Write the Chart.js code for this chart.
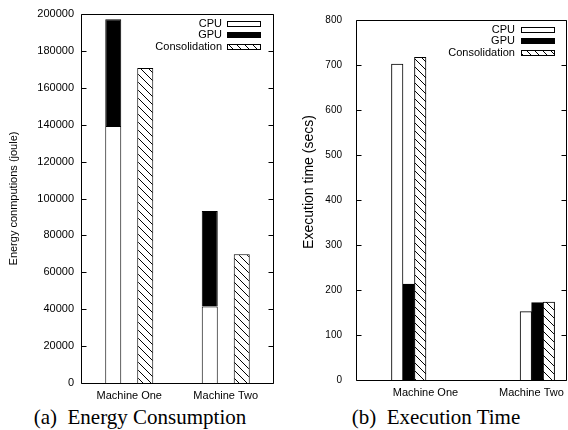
<!DOCTYPE html>
<html><head><meta charset="utf-8">
<script src="https://cdn.jsdelivr.net/npm/chart.js@4/dist/chart.umd.min.js"></script>
<style>
html,body{margin:0;padding:0;background:#fff;overflow:hidden;width:568px;height:430px;}
#w1{position:absolute;left:0;top:0;width:284px;height:400px;}
#w2{position:absolute;left:284px;top:0;width:286px;height:400px;}
.cap{position:absolute;top:405px;width:240px;text-align:center;font-family:"Liberation Serif","Times New Roman",serif;font-size:21px;line-height:24px;white-space:pre;color:#000;}
</style></head><body>
<div id="w1"><canvas id="c1"></canvas></div>
<div id="w2"><canvas id="c2"></canvas></div>
<div class="cap" style="left:20px">(a)  Energy Consumption</div>
<div class="cap" style="left:316px">(b)  Execution Time</div>
<script>
// ---- data ----
const categories = ['Machine One', 'Machine Two'];
const seriesNames = ['CPU', 'GPU', 'Consolidation'];
const energyCPU = [139300, 41400];
const energyGPU = [57800, 51800];
const energyConsolidation = [170700, 69800];
const energyTicks = [0, 20000, 40000, 60000, 80000, 100000, 120000, 140000, 160000, 180000, 200000];
const timeCPU = [702, 152];
const timeGPU = [213, 172];
const timeConsolidation = [717, 173];
const timeTicks = [0, 100, 200, 300, 400, 500, 600, 700, 800];

Chart.defaults.font.family = '"Liberation Sans", Arial, sans-serif';
Chart.defaults.font.size = 11;
Chart.defaults.color = '#000';
Chart.defaults.animation = false;

function hatch() {
  const s = 8, c = document.createElement('canvas');
  c.width = s; c.height = s;
  const g = c.getContext('2d');
  g.fillStyle = '#fff'; g.fillRect(0, 0, s, s);
  g.strokeStyle = '#000'; g.lineWidth = 1;
  g.beginPath();
  g.moveTo(-1, -1); g.lineTo(s + 1, s + 1);
  g.moveTo(-1, s - 1); g.lineTo(1, s + 1);
  g.moveTo(s - 1, -1); g.lineTo(s + 1, 1);
  g.stroke();
  return g.createPattern(c, 'repeat');
}
const pat1 = hatch();

const framePlugin = {
  id: 'frame',
  afterDraw(chart, args, opts) {
    const {ctx, chartArea: a} = chart;
    const ys = chart.scales.y;
    const L = Math.round(a.left) + 0.5, R = Math.round(a.right) - 0.5;
    const T = Math.round(a.top) + 0.5, B = Math.round(a.bottom) + 0.5;
    ctx.save();
    ctx.strokeStyle = '#000'; ctx.lineWidth = 1;
    ctx.beginPath();
    ctx.moveTo(L, T); ctx.lineTo(R, T); ctx.lineTo(R, B); ctx.lineTo(L, B); ctx.closePath();
    ys.ticks.forEach(t => {
      const py = Math.round(ys.getPixelForValue(t.value)) + 0.5;
      ctx.moveTo(L, py); ctx.lineTo(L + 5, py);
      ctx.moveTo(R - 5, py); ctx.lineTo(R, py);
    });
    ctx.stroke();
    // legend
    ctx.font = '11px "Liberation Sans", Arial, sans-serif';
    ctx.textAlign = 'right'; ctx.textBaseline = 'middle';
    chart.data.datasets.forEach((d, i) => {
      const y = Math.round(a.top + 9.5 + i * 11.7);
      ctx.fillStyle = '#000';
      ctx.fillText(d.label, a.right - opts.textGap, y);
      const x0 = Math.round(a.right - opts.boxStart) + 0.5;
      ctx.fillStyle = d.backgroundColor;
      ctx.fillRect(x0, y - 2.5, 33, 5);
      ctx.strokeStyle = '#000';
      ctx.strokeRect(x0, y - 2.5, 33, 5);
    });
    // optional custom y label
    if (opts.ylabel) {
      const yl = opts.ylabel;
      ctx.save();
      ctx.translate(yl.x, yl.y);
      ctx.rotate(-Math.PI / 2);
      ctx.font = yl.size + 'px "Liberation Sans", Arial, sans-serif';
      ctx.textAlign = 'center'; ctx.textBaseline = 'middle';
      ctx.fillStyle = '#000';
      ctx.fillText(yl.text, 0, 0);
      ctx.restore();
    }
    ctx.restore();
  }
};

// ---- chart (a) ----
new Chart(document.getElementById('c1'), {
  type: 'bar',
  data: {
    labels: categories,
    datasets: [
      {label: seriesNames[0], data: energyCPU, stack: 'e', backgroundColor: '#fff', borderColor: '#000', borderWidth: 1},
      {label: seriesNames[1], data: energyGPU, stack: 'e', backgroundColor: '#000', borderColor: '#000', borderWidth: 1},
      {label: seriesNames[2], data: energyConsolidation, stack: 'c', backgroundColor: pat1, borderColor: '#000', borderWidth: 1}
    ]
  },
  options: {
    responsive: true, maintainAspectRatio: false,
    layout: {padding: {left: 0, right: 10, top: 14, bottom: 0}},
    categoryPercentage: 0.663, barPercentage: 0.5,
    plugins: {legend: {display: false}, tooltip: {enabled: false}, frame: {textGap: 52, boxStart: 47}},
    scales: {
      x: {
        stacked: true,
        grid: {display: false, drawTicks: false}, border: {display: false},
        ticks: {padding: 6, maxRotation: 0, autoSkip: false},
        afterFit(s) { s.height = 17; }
      },
      y: {
        stacked: true, min: 0, max: 200000,
        grid: {display: false, drawTicks: false}, border: {display: false},
        afterBuildTicks(s) { s.ticks = energyTicks.map(v => ({value: v})); },
        ticks: {padding: 7, callback: v => String(v)},
        title: {display: true, text: 'Energy conmputions (joule)', font: {size: 11}, padding: {top: 7.4, bottom: 0}},
        afterFit(s) { s.width = 81; }
      }
    }
  },
  plugins: [framePlugin]
});

// ---- chart (b) ----
const labelPos = [0.13, 0.954];
new Chart(document.getElementById('c2'), {
  type: 'bar',
  data: {
    datasets: [
      {label: seriesNames[0], data: categories.map((c, i) => ({x: i, y: timeCPU[i]})), backgroundColor: '#fff', borderColor: '#000', borderWidth: 1},
      {label: seriesNames[1], data: categories.map((c, i) => ({x: i, y: timeGPU[i]})), backgroundColor: '#000', borderColor: '#000', borderWidth: 1},
      {label: seriesNames[2], data: categories.map((c, i) => ({x: i, y: timeConsolidation[i]})), backgroundColor: pat1, borderColor: '#000', borderWidth: 1}
    ]
  },
  options: {
    responsive: true, maintainAspectRatio: false,
    layout: {padding: {left: 0, right: 1, top: 14, bottom: 0}},
    barThickness: 11.5,
    plugins: {legend: {display: false}, tooltip: {enabled: false},
      frame: {textGap: 52, boxStart: 46, ylabel: {text: 'Execution time (secs)', x: 25, y: 182, size: 14}}},
    scales: {
      x: {
        type: 'linear', offset: false, min: -0.41, max: 1.23,
        grid: {display: false, drawTicks: false}, border: {display: false},
        afterBuildTicks(s) { s.ticks = categories.map((c, i) => ({value: labelPos[i]})); },
        ticks: {padding: 6, maxRotation: 0, autoSkip: false, callback: (v, i) => categories[i]},
        afterFit(s) { s.height = 17; }
      },
      y: {
        min: 0, max: 800,
        grid: {display: false, drawTicks: false}, border: {display: false},
        afterBuildTicks(s) { s.ticks = timeTicks.map(v => ({value: v})); },
        ticks: {padding: 14, font: {size: 10}, callback: v => String(v)},
        afterFit(s) { s.width = 72; }
      }
    }
  },
  plugins: [framePlugin]
});
</script>
</body></html>
